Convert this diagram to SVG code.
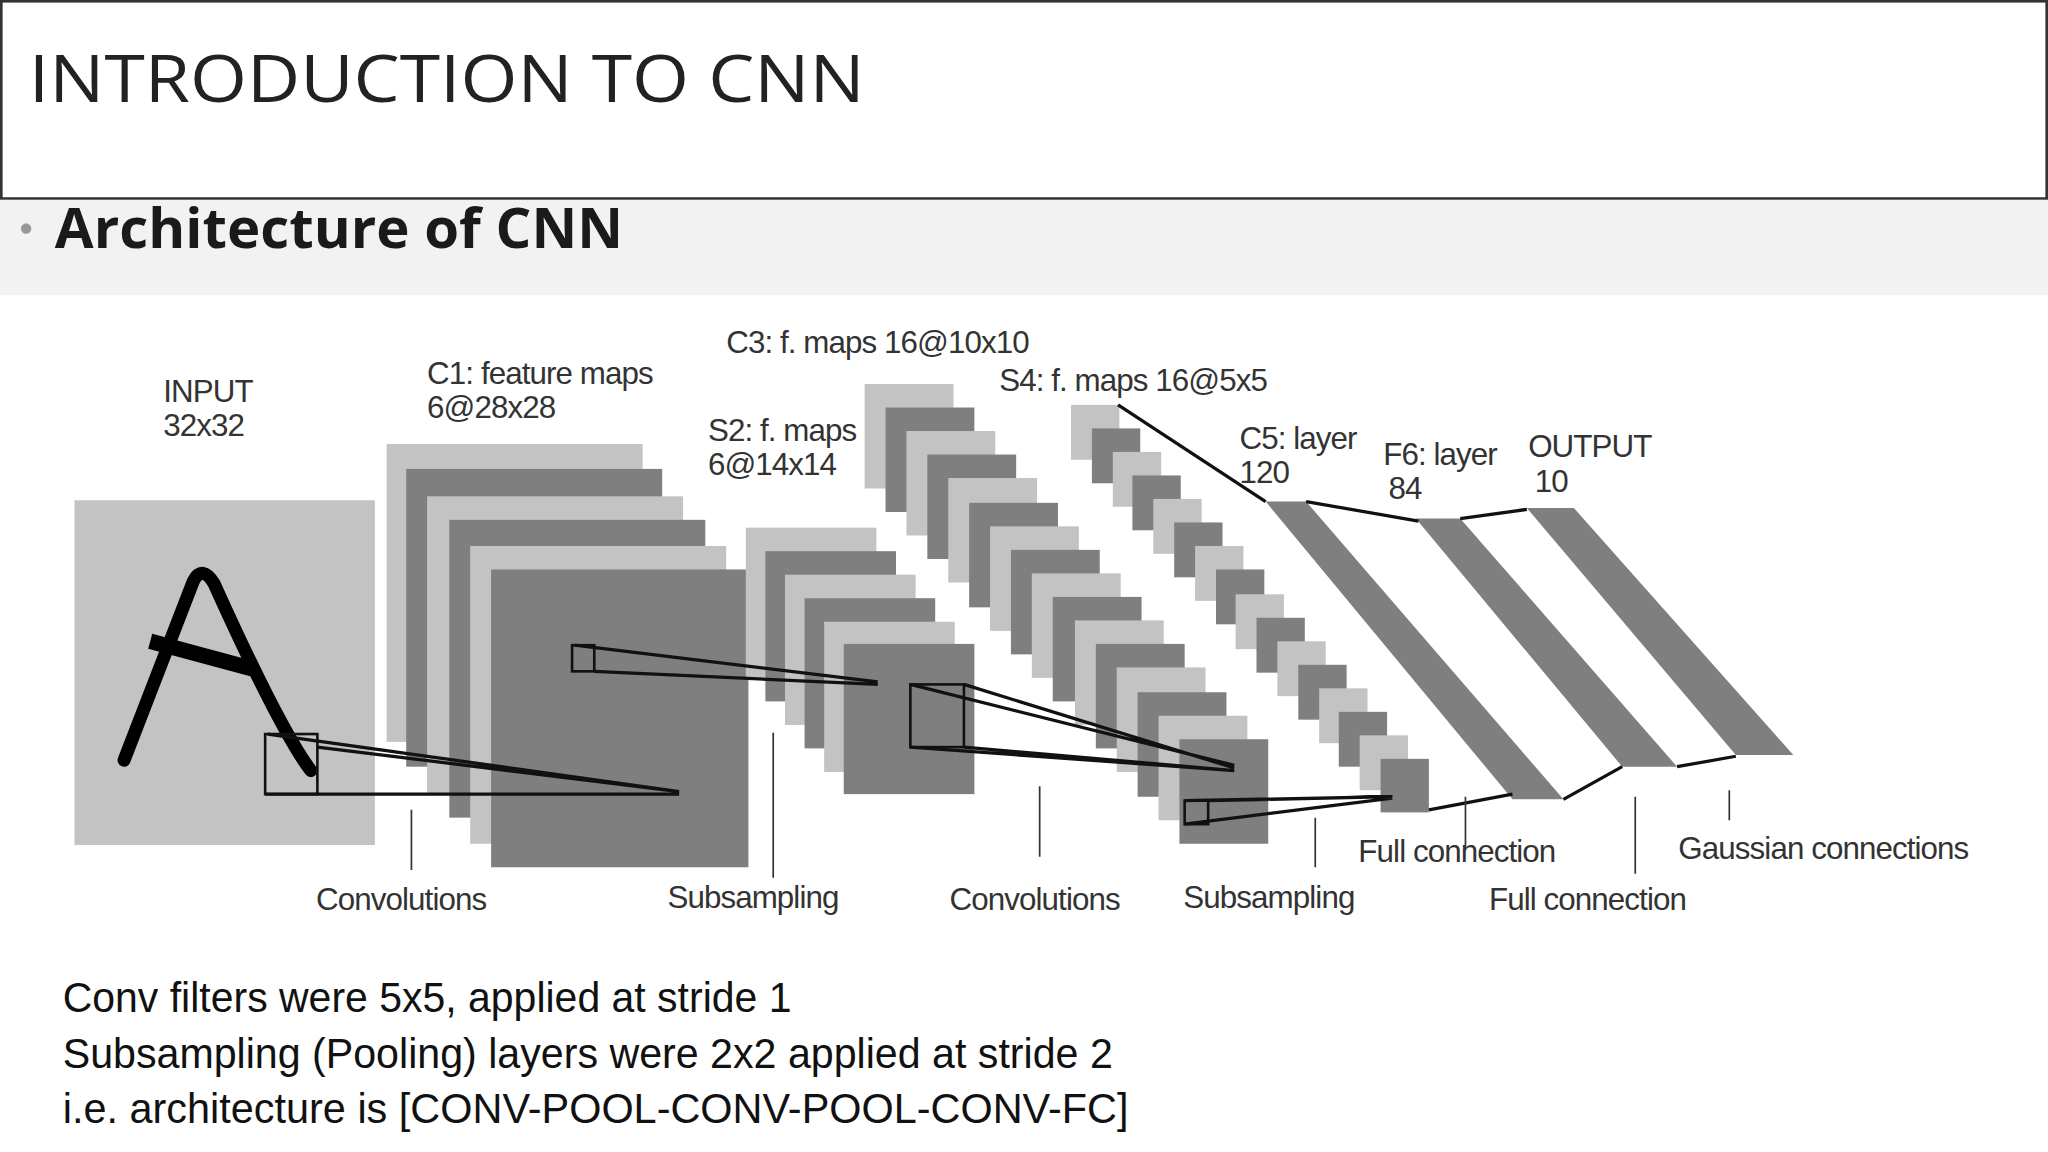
<svg xmlns="http://www.w3.org/2000/svg" width="2048" height="1152" viewBox="0 0 2048 1152">
<style>
.l{fill:#c3c3c3}.d{fill:#7f7f7f}
.t{font-family:"Liberation Sans",Arial,sans-serif;font-size:24px;fill:#333;letter-spacing:-0.7px}
.k{stroke:#111;stroke-width:2.5;fill:none}
.tk{stroke:#333;stroke-width:1.3}
.b{font-family:"Liberation Sans",Arial,sans-serif;font-size:32px;fill:#111}
</style>
<rect width="2048" height="1152" fill="#fff"/>
<g transform="scale(1.30612)">
<g id="header">
<rect x="1" y="1" width="1566" height="151" fill="#fff" stroke="#333" stroke-width="2"/>
<text x="22" y="78" font-family="Open Sans, sans-serif" font-size="50" fill="#222" textLength="640" lengthAdjust="spacingAndGlyphs">INTRODUCTION TO CNN</text>
</g>
<g id="subtitle">
<rect x="0" y="153" width="1568" height="73" fill="#f2f2f2"/>
<circle cx="20" cy="175" r="4" fill="#999"/>
<text x="42" y="190" font-family="Open Sans, sans-serif" font-weight="700" font-size="43" fill="#1a1a1a" textLength="435" lengthAdjust="spacingAndGlyphs">Architecture of CNN</text>
</g>
<g id="input">
<rect x="57" y="383" width="230" height="264" class="l"/>
<path d="M95,582 L148,445 Q155,432 164,447 Q215,560 238,590" stroke="#000" stroke-width="10" fill="none" stroke-linecap="round"/>
<path d="M115,491 L193,512" stroke="#000" stroke-width="12"/>
<rect x="203" y="562" width="40" height="46" fill="none" stroke="#111" stroke-width="2"/>
<text class="t" x="125" y="308">INPUT</text><text class="t" x="125" y="334">32x32</text>
</g>
<g id="c1">
<rect x="296" y="340" width="196" height="228" class="l"/>
<rect x="311" y="359" width="196" height="228" class="d"/>
<rect x="327" y="380" width="196" height="228" class="l"/>
<rect x="344" y="398" width="196" height="228" class="d"/>
<rect x="360" y="418" width="196" height="228" class="l"/>
<rect x="376" y="436" width="197" height="228" class="d"/>
<rect x="438" y="494" width="17" height="20" fill="none" stroke="#111" stroke-width="2"/>
<text class="t" x="327" y="294">C1: feature maps</text><text class="t" x="327" y="320">6@28x28</text>
</g>
<g id="s2">
<rect x="571" y="404" width="100" height="115" class="l"/>
<rect x="586" y="422" width="100" height="115" class="d"/>
<rect x="601" y="440" width="100" height="115" class="l"/>
<rect x="616" y="458" width="100" height="115" class="d"/>
<rect x="631" y="476" width="100" height="115" class="l"/>
<rect x="646" y="493" width="100" height="115" class="d"/>
<rect x="697" y="524" width="41" height="48" fill="none" stroke="#111" stroke-width="2"/>
<text class="t" x="542" y="338">S2: f. maps</text><text class="t" x="542" y="364">6@14x14</text>
</g>
<g id="c3">
<rect x="662" y="294" width="68" height="80" class="l"/><rect x="678" y="312" width="68" height="80" class="d"/>
<rect x="694" y="330" width="68" height="80" class="l"/><rect x="710" y="348" width="68" height="80" class="d"/>
<rect x="726" y="366" width="68" height="80" class="l"/><rect x="742" y="385" width="68" height="80" class="d"/>
<rect x="758" y="403" width="68" height="80" class="l"/><rect x="774" y="421" width="68" height="80" class="d"/>
<rect x="790" y="439" width="68" height="80" class="l"/><rect x="806" y="457" width="68" height="80" class="d"/>
<rect x="823" y="475" width="68" height="80" class="l"/><rect x="839" y="493" width="68" height="80" class="d"/>
<rect x="855" y="511" width="68" height="80" class="l"/><rect x="871" y="530" width="68" height="80" class="d"/>
<rect x="887" y="548" width="68" height="80" class="l"/><rect x="903" y="566" width="68" height="80" class="d"/>
<rect x="907" y="613" width="18" height="18" fill="none" stroke="#111" stroke-width="2"/>
<text class="t" x="556" y="270">C3: f. maps 16@10x10</text>
</g>
<g id="s4">
<rect x="820" y="310" width="37" height="42" class="l"/><rect x="836" y="328" width="37" height="42" class="d"/>
<rect x="852" y="346" width="37" height="42" class="l"/><rect x="867" y="364" width="37" height="42" class="d"/>
<rect x="883" y="382" width="37" height="42" class="l"/><rect x="899" y="400" width="37" height="42" class="d"/>
<rect x="915" y="418" width="37" height="42" class="l"/><rect x="931" y="436" width="37" height="42" class="d"/>
<rect x="946" y="455" width="37" height="42" class="l"/><rect x="962" y="473" width="37" height="42" class="d"/>
<rect x="978" y="491" width="37" height="42" class="l"/><rect x="994" y="509" width="37" height="42" class="d"/>
<rect x="1010" y="527" width="37" height="42" class="l"/><rect x="1025" y="545" width="37" height="42" class="d"/>
<rect x="1041" y="563" width="37" height="42" class="l"/><rect x="1057" y="581" width="37" height="41" class="d"/>
<text class="t" x="765" y="299">S4: f. maps 16@5x5</text>
</g>
<g id="c5">
<polygon points="969,384 1000,384 1197,612 1158,612" class="d"/>
<text class="t" x="949" y="344">C5: layer</text><text class="t" x="949" y="370">120</text>
</g>
<g id="f6">
<polygon points="1084,397 1118,397 1284,587 1242,587" class="d"/>
<text class="t" x="1059" y="356">F6: layer</text><text class="t" x="1063" y="382">84</text>
</g>
<g id="output">
<polygon points="1169,389 1205,389 1373,578 1329,578" class="d"/>
<text class="t" x="1170" y="350">OUTPUT</text><text class="t" x="1175" y="377">10</text>
</g>
<g id="connectors">
<path class="k" d="M205,562 L520,606 M243,572 L520,606 M203,608 L520,608"/>
<path class="k" d="M440,494 L672,522 M455,514 L672,524"/>
<path class="k" d="M697,524 L945,586 M738,524 L945,588 M697,572 L945,590 M738,572 L945,590"/>
<path class="k" d="M907,613 L1066,610 M925,613 L1066,610 M907,631 L1066,611"/>
<path class="k" d="M856,310 L969,384 M1000,384 L1086,399 M1118,397 L1169,390 M1094,620 L1158,608 M1197,612 L1242,587 M1284,587 L1329,579"/>
<path class="tk" d="M315,620 V666 M592,561 V672 M796,602 V656 M1007,626 V664 M1122,610 V650 M1252,610 V669 M1324,605 V628"/>
</g>
<g id="labels">
<text class="t" x="242" y="697">Convolutions</text>
<text class="t" x="511" y="695">Subsampling</text>
<text class="t" x="727" y="697">Convolutions</text>
<text class="t" x="906" y="695">Subsampling</text>
<text class="t" x="1040" y="660">Full connection</text>
<text class="t" x="1140" y="697">Full connection</text>
<text class="t" x="1285" y="658">Gaussian connections</text>
</g>
<g id="notes">
<text class="b" x="48" y="775" textLength="558" lengthAdjust="spacingAndGlyphs">Conv filters were 5x5, applied at stride 1</text>
<text class="b" x="48" y="818" textLength="804" lengthAdjust="spacingAndGlyphs">Subsampling (Pooling) layers were 2x2 applied at stride 2</text>
<text class="b" x="48" y="860" textLength="816" lengthAdjust="spacingAndGlyphs">i.e. architecture is [CONV-POOL-CONV-POOL-CONV-FC]</text>
</g>
</g>
</svg>
